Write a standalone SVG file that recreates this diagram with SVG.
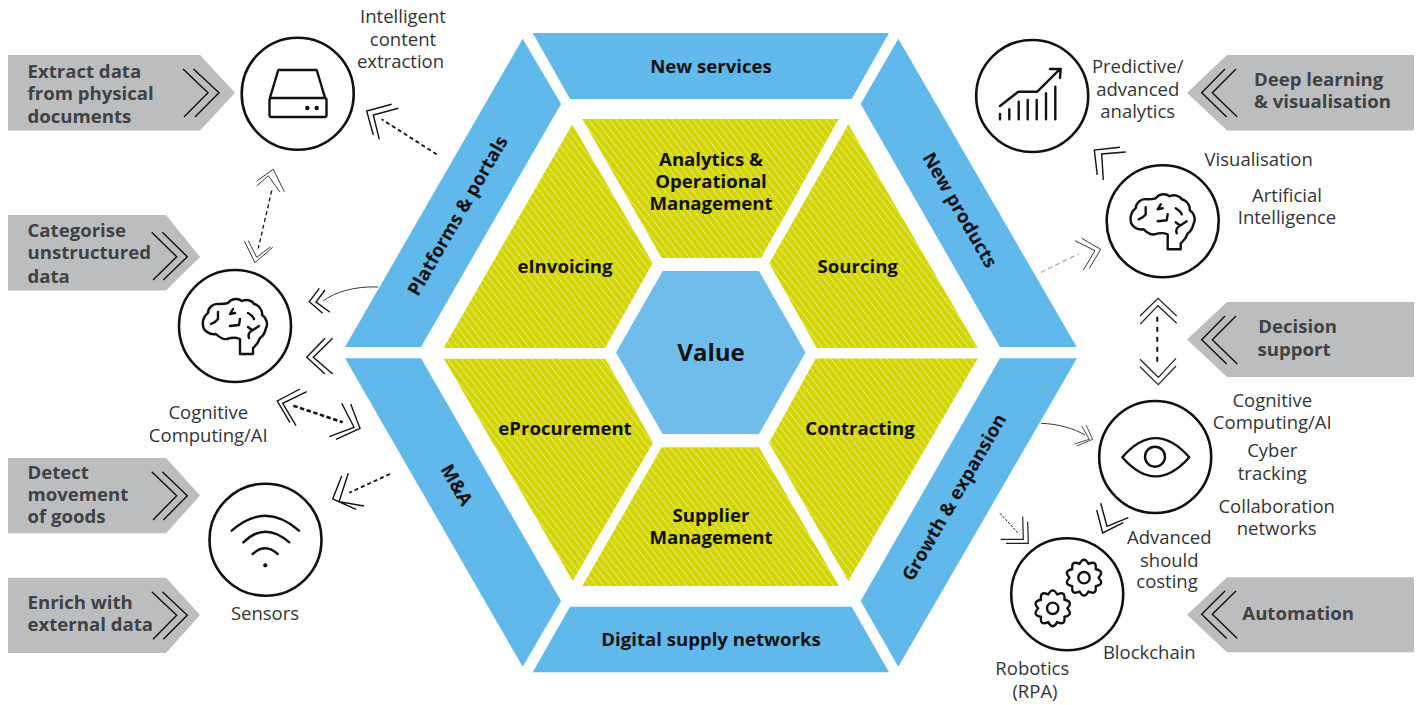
<svg xmlns="http://www.w3.org/2000/svg" width="1420" height="705" viewBox="0 0 1420 705">
<style>
text{font-family:"Open Sans","Noto Sans","Liberation Sans",sans-serif}
.t{font-size:18.5px;fill:#333436;text-anchor:middle}
.g{font-size:18.6px;font-weight:700;fill:#414245}
.h{font-size:18.6px;font-weight:700;fill:#111;text-anchor:middle}
.band{fill:#61b8ea}
.seg{fill:url(#stripe)}
.tag{fill:#bcbdbf}
.c{fill:#fff;stroke:#111;stroke-width:2.6}
.i{fill:none;stroke:#111;stroke-width:2.4;stroke-linejoin:round;stroke-linecap:round}
.ch{fill:none;stroke:#111;stroke-width:1.4}
.th{fill:none;stroke:#222;stroke-width:.9}
.d{fill:none;stroke:#111;stroke-width:1.8;stroke-dasharray:4 3}
</style>
<defs>
<pattern id="stripe" width="5.5" height="5.5" patternUnits="userSpaceOnUse" patternTransform="rotate(52)">
<rect width="5.5" height="5.5" fill="#d3d600"/><rect width="5.5" height="1" fill="#e6e87a"/>
</pattern>
<g id="brain">
<path class="i" d="M5 28V13C0 11-5 12-8 13C-13 14-17 10-19 8C-25 9-32 5-32-1C-33-6-30-11-27-13C-27-18-22-23-16-22C-12-22-10-22-7-23C-3-28 3-28 7-25C11-27 17-26 19-22C24-21 28-15 27-11C32-8 33-1 31 2C30 7 27 11 25 12C23 18 20 20 18 22V28Z"/>
<path class="i" d="M-17-14V-7Q-19-4-24-2M-2-17L-5-12L0-13M5-7L4-1L-5 0M13-13Q18-10 19-7M24 0L18 4Q12 7 14 12M13 1L17 4"/>
</g>
<path id="gear" class="i" d="M14.5 0Q20.9 6.8 11.7 8.5Q12.9 17.8 4.5 13.8Q0 22-4.5 13.8Q-12.9 17.8-11.7 8.5Q-20.9 6.8-14.5 0Q-20.9-6.8-11.7-8.5Q-12.9-17.8-4.5-13.8Q0-22 4.5-13.8Q12.9-17.8 11.7-8.5Q20.9-6.8 14.5 0Z"/>
</defs>

<g id="hexagon-outer">
<polygon class="band" points="522.7,38.7 561,104 421,347 345,347"/>
<polygon class="band" points="532.7,33 889,33 851.7,99 570,99"/>
<polygon class="band" points="898.3,38.7 1076.7,347 1000,347 860.7,104"/>
<polygon class="band" points="345,358.3 421,358.3 561,601 522.7,666.7"/>
<polygon class="band" points="570,606.7 851.7,606.7 889,672.3 532.7,672.3"/>
<polygon class="band" points="1000,358.3 1077,358.3 898.3,666.7 860.7,601"/>
</g>
<g id="hexagon-inner">
<polygon class="seg" points="582.3,119 838.7,119 761,258 661.7,258"/>
<polygon class="seg" points="572.3,124.3 652.7,263.3 605,348 443.5,348"/>
<polygon class="seg" points="848.3,124.3 977.7,348 816.7,348 769.3,263.3"/>
<polygon class="seg" points="444,358.7 605.5,358.7 653,442.7 572.7,581"/>
<polygon class="seg" points="661.7,447.3 759,447.3 839,586 582.3,586"/>
<polygon class="seg" points="815.7,358.5 977.7,358.5 848.3,581 769,442.7"/>
<polygon fill="#6fbdeb" points="662.7,271 759,271 805.5,352.5 759,434 662.7,434 616,352.5"/>
</g>
<g id="hexagon-labels">
<text class="h" x="711" y="73">New services</text>
<text class="h" x="711" y="165.7">Analytics &amp;</text>
<text class="h" x="711" y="187.7">Operational</text>
<text class="h" x="711" y="209.5">Management</text>
<text class="h" x="565" y="273">eInvoicing</text>
<text class="h" x="857.7" y="273">Sourcing</text>
<text class="h" x="565" y="435">eProcurement</text>
<text class="h" x="860" y="435">Contracting</text>
<text class="h" x="711" y="522">Supplier</text>
<text class="h" x="711" y="544">Management</text>
<text class="h" x="711" y="646">Digital supply networks</text>
<text x="711" y="361" font-size="24" font-weight="700" fill="#111" text-anchor="middle">Value</text>
<text class="h" transform="translate(457.5,215.7) rotate(-60)" y="6.5">Platforms &amp; portals</text>
<text class="h" transform="translate(960,210) rotate(60)" y="6.5">New products</text>
<text class="h" transform="translate(456.7,485) rotate(60)" y="6.5">M&amp;A</text>
<text class="h" transform="translate(954,497.3) rotate(-60)" y="6.5">Growth &amp; expansion</text>
</g>

<g id="tag-extract">
<polygon class="tag" points="8,55 200,55 235,92.7 200,130.5 8,130.5"/>
<path class="ch" d="M183 69L208 92.7L184 117M193.500 69L219 92.7L195 117"/>
<text class="g" x="27.500" y="78">Extract data</text><text class="g" x="27.500" y="100">from physical</text><text class="g" x="27.500" y="123">documents</text>
</g>
<g id="tag-categorise">
<polygon class="tag" points="8,215 166,215 200,257 166,290.500 8,290.500"/>
<path class="ch" d="M151.700 232.300L176.700 256.700L153 280M162.300 232.300L187.300 256.700L163.300 280"/>
<text class="g" x="27.500" y="237.300">Categorise</text><text class="g" x="27.500" y="259.300">unstructured</text><text class="g" x="27.500" y="282.700">data</text>
</g>
<g id="tag-detect">
<polygon class="tag" points="8,458 166,458 200,495.500 166,533.300 8,533.300"/>
<path class="ch" d="M151.700 471.700L176.700 495.700L153 520M162.300 471.700L187.300 495.700L163.300 520"/>
<text class="g" x="27.500" y="479">Detect</text><text class="g" x="27.500" y="501">movement</text><text class="g" x="27.500" y="523.300">of goods</text>
</g>
<g id="tag-enrich">
<polygon class="tag" points="8,577.700 166,577.700 200,615 166,653 8,653"/>
<path class="ch" d="M151.700 591.700L176.700 615.300L153 639.300M162.300 591.700L187.300 615.300L163.300 639.300"/>
<text class="g" x="27.500" y="609">Enrich with</text><text class="g" x="27.500" y="631">external data</text>
</g>
<g id="tag-deep">
<polygon class="tag" points="1414,55 1227,55 1187,92.700 1227,130.500 1414,130.500"/>
<path class="ch" d="M1225 69L1201.700 92.700L1226.700 117M1236 69L1212.300 92.700L1237.300 117"/>
<text class="g" x="1254" y="86">Deep learning</text><text class="g" x="1254" y="107.700">&amp; visualisation</text>
</g>
<g id="tag-decision">
<polygon class="tag" points="1414,302 1227,302 1187,339.500 1227,377 1414,377"/>
<path class="ch" d="M1225 316L1201.700 339.700L1226.700 364M1236 316L1212.300 339.700L1237.300 364"/>
<text class="g" x="1258.300" y="332.700">Decision</text><text class="g" x="1257.500" y="355.500">support</text>
</g>
<g id="tag-automation">
<polygon class="tag" points="1414,577.300 1227,577.300 1187,614.700 1227,652.300 1414,652.300"/>
<path class="ch" d="M1225 591L1201.700 614.300L1226.700 638.500M1236 591L1212.300 614.300L1237.300 638.500"/>
<text class="g" x="1242.300" y="620">Automation</text>
</g>

<g id="connectors">
<path class="d" d="M436.700 154.300L381.700 119.300"/>
<path class="ch" d="M391.700 104.300L366.700 111L373.300 135M398.300 108.300L373.300 115L379.300 139.300"/>
<path class="d" style="stroke-width:1.300" d="M271.700 190.700L258.300 248.300"/>
<path class="th" d="M256.700 181L273.300 169.300L284.300 191.700M256.700 186L268.300 175.700L280 192M244.300 241L255 262.700L272.700 247.300M248.300 240.700L256.700 257.300L270.700 246.700"/>
<path class="th" d="M378 287C355 286 335 292 323 301"/>
<path class="ch" d="M319.300 288.300L309.300 301.700L322.700 313.300M325 290L316 302L330 312.300"/>
<path class="ch" d="M325 338.300L306.700 357.300L325 374M332.700 338.300L313.300 357.300L332.700 374"/>
<path class="d" style="stroke-width:2.600;stroke-dasharray:4.500 2.500" d="M293.300 405.700L342.700 422.300"/>
<path class="ch" d="M300 389L277.300 401L290 422.700M306.700 391.700L282.700 403.300L296 425.700M350.700 404L360 428.300L336 439.300M341.700 403.300L354 427.300L329.300 436.700"/>
<path class="d" d="M390 474L349.300 492.700"/>
<path class="ch" d="M341.700 476L332.700 499L356 509.300M348.300 473.300L339 501.700L364 506"/>
<path class="ch" d="M1120 147.300L1094.300 150L1097.300 175M1125.700 152L1101.700 154L1103.300 180"/>
<path fill="none" stroke="#bbb" stroke-width="1.500" stroke-dasharray="5 3" d="M1041 272.300L1078.300 254"/>
<path class="th" d="M1081.700 238.300L1100.700 249.300L1089.300 268.300M1075 240.700L1095 250.700L1083.300 270"/>
<path class="d" style="stroke-width:2;stroke-dasharray:5 5" d="M1157.300 316.700V366.700"/>
<path class="th" style="stroke-width:1.200" d="M1140 316L1158 298.300L1176.700 316M1140.300 324L1158 305.700L1176.700 323.300M1140 359.300L1158.300 377.300L1176 358.300M1140 366.700L1158.300 384.700L1176 366"/>
<path class="th" d="M1041 423.300C1058 424 1073 428 1085 435"/>
<path class="th" style="stroke-width:.8" d="M1086 425L1092.700 439.300L1076.700 446M1081.700 426L1089.300 439.300L1074.300 444"/>
<path class="ch" d="M1096.700 510L1102.700 533L1123.300 522.700M1100.700 503.300L1107 526.300L1128.300 517.700"/>
<path fill="none" stroke="#111" stroke-width="1" stroke-dasharray="2.500 1.500" d="M1000 513.300L1019.300 534.300"/>
<path class="th" style="stroke-width:1.200" d="M1027.700 521.700L1028.300 543.300L1006 543.300M1022.700 516.700L1023.300 539.300L1000.700 539.300"/>
</g>

<g id="node-extraction">
<circle class="c" cx="297.700" cy="93.700" r="56"/>
<path class="i" d="M270 97.700L278.300 70H316.700L325 97.700M271.500 98H324.500Q326.500 98 326.500 100V115Q326.500 117 324.500 117H271.500Q269.500 117 269.500 115V100Q269.500 98 271.500 98Z"/>
<circle cx="307.300" cy="108" r="2.200" fill="#111"/><circle cx="316.700" cy="108" r="2.200" fill="#111"/>
<text class="t" x="403" y="23">Intelligent</text><text class="t" x="403" y="46">content</text><text class="t" x="400.500" y="68">extraction</text>
</g>
<g id="node-cognitive-left">
<circle class="c" cx="235" cy="326" r="56"/>
<use href="#brain" x="235" y="326"/>
<text class="t" x="208.300" y="419">Cognitive</text><text class="t" x="208.300" y="441.700">Computing/AI</text>
</g>
<g id="node-sensors">
<circle class="c" cx="265.500" cy="539.700" r="56"/>
<path class="i" d="M231.700 530.700Q265 501 299 530.700M243.300 542.300Q265 521 289.300 542.300M252.700 554Q265 542.500 277.700 554"/>
<circle cx="265.300" cy="565.300" r="2.100" fill="#111"/>
<text class="t" x="265" y="620">Sensors</text>
</g>
<g id="node-analytics">
<circle class="c" cx="1032.200" cy="96" r="56"/>
<path class="i" d="M1000 119.300V114M1009.300 119.300V109.300M1018.700 119.300V101.700M1027.700 119.300V100M1036.700 119.300V100M1046 119.300V93.300M1055.300 119.300V86.700M1000 106L1018.300 91.700H1037.300L1060 69M1050 69H1060.700L1060 78"/>
<text class="t" x="1137.700" y="72.700">Predictive/</text><text class="t" x="1137.700" y="96">advanced</text><text class="t" x="1137.700" y="118.300">analytics</text>
</g>
<g id="node-ai">
<circle class="c" cx="1162.700" cy="221.300" r="56"/>
<use href="#brain" x="1162.700" y="221.300"/>
<text class="t" x="1258.700" y="165.700">Visualisation</text><text class="t" x="1287" y="201.700">Artificial</text><text class="t" x="1287" y="224">Intelligence</text>
</g>
<g id="node-eye">
<circle class="c" cx="1155.200" cy="457" r="56"/>
<path class="i" d="M1122.300 457.300Q1155.500 419 1189.300 457.300Q1155.500 495.500 1122.300 457.300Z"/>
<circle class="i" cx="1155" cy="456.700" r="10"/>
<text class="t" x="1272.300" y="407.300">Cognitive</text><text class="t" x="1272.300" y="429.300">Computing/AI</text>
<text class="t" x="1272.300" y="457.300">Cyber</text><text class="t" x="1272.300" y="480">tracking</text>
<text class="t" x="1276.700" y="513.300">Collaboration</text><text class="t" x="1276.700" y="535">networks</text>
<text class="t" x="1169.300" y="544">Advanced</text><text class="t" x="1169.300" y="566.700">should</text><text class="t" x="1167" y="588.300">costing</text>
</g>
<g id="node-robotics">
<circle class="c" cx="1067.200" cy="594.300" r="56"/>
<use href="#gear" x="1084" y="577.700"/><circle class="i" cx="1084" cy="577.700" r="5.700"/>
<use href="#gear" x="1052.700" y="608.300"/><circle class="i" cx="1052.700" cy="608.300" r="5.700"/>
<text class="t" x="1149.300" y="659.300">Blockchain</text><text class="t" x="1032.300" y="675">Robotics</text><text class="t" x="1035" y="697.700">(RPA)</text>
</g>
</svg>
